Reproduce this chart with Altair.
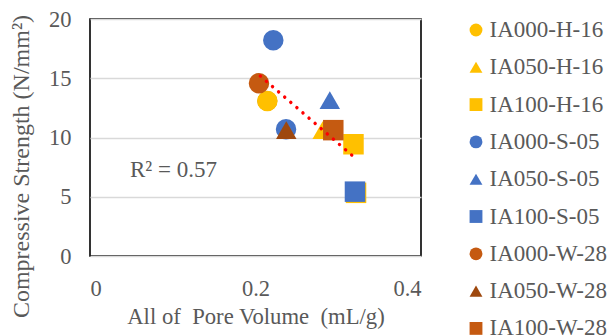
import altair as alt
import pandas as pd

# Measured samples: series name, pore volume (mL/g), compressive strength (N/mm2)
series = ["IA000-H-16", "IA050-H-16", "IA100-H-16", "IA100-H-16",
          "IA000-S-05", "IA000-S-05", "IA050-S-05", "IA100-S-05",
          "IA000-W-28", "IA050-W-28", "IA100-W-28"]
pore_volume = [0.2143, 0.2812, 0.3184, 0.3215, 0.2215, 0.2369, 0.2898, 0.3202,
               0.2042, 0.2372, 0.2940]
strength = [13.08, 10.63, 9.43, 5.33, 18.2, 10.69, 13.16, 5.43, 14.57, 10.63, 10.62]

legend_order = ["IA000-H-16", "IA050-H-16", "IA100-H-16",
                "IA000-S-05", "IA050-S-05", "IA100-S-05",
                "IA000-W-28", "IA050-W-28", "IA100-W-28"]
legend_colors = ["#FFC000", "#FFC000", "#FFC000",
                 "#4472C4", "#4472C4", "#4472C4",
                 "#C55A11", "#9E480E", "#C55A11"]
legend_shapes = ["circle", "triangle-up", "square"] * 3

# Linear trend line end points and its fit statistic
trend_x = [0.2058, 0.3163]
trend_y = [15.19, 8.52]
r2_label = ["R² = 0.57"]
r2_x = [0.0483]
r2_y = [6.69]

FONT = "Liberation Serif, Times New Roman, DejaVu Serif, serif"
GREY = "#595959"

points = pd.DataFrame({"series": series, "pv": pore_volume, "cs": strength,
                       "order": list(range(len(series)))})
trend = pd.DataFrame({"pv": trend_x, "cs": trend_y})
note = pd.DataFrame({"pv": r2_x, "cs": r2_y, "label": r2_label})

x_scale = alt.Scale(domain=[0, 0.4], nice=False, zero=False)
y_scale = alt.Scale(domain=[0, 20], nice=False)

x_axis = alt.Axis(title="All of\u00a0 Pore Volume\u00a0 (mL/g)", values=[0, 0.2, 0.4],
                  format="~g", grid=False, domain=False, ticks=False,
                  labelPadding=21, titleBaseline="top", titleY=49, titleFontSize=22.7)
y_axis = alt.Axis(title="Compressive Strength (N/mm²)", values=[0, 5, 10, 15, 20],
                  grid=True, domain=False, ticks=False, labelPadding=19,
                  titleAngle=270, titleAlign="center", titleBaseline="bottom",
                  titleX=-57, titleY=147, titleFontSize=24)

legend = alt.Legend(title=None, orient="none", legendX=374.5, legendY=-0.5)

# soft drop shadow under the yellow circle
shadow = alt.Chart(points).transform_filter(
    alt.datum.series == "IA000-H-16"
).mark_point(filled=True, opacity=1, size=400, color="#9C7C10", dx=1.5, dy=1.8).encode(
    x=alt.X("pv:Q", scale=x_scale), y=alt.Y("cs:Q", scale=y_scale)
)

scatter = alt.Chart(points).mark_point(filled=True, opacity=1, size=420).encode(
    x=alt.X("pv:Q", scale=x_scale, axis=x_axis),
    y=alt.Y("cs:Q", scale=y_scale, axis=y_axis),
    color=alt.Color("series:N", scale=alt.Scale(domain=legend_order, range=legend_colors),
                    legend=legend),
    shape=alt.Shape("series:N", scale=alt.Scale(domain=legend_order, range=legend_shapes),
                    legend=legend),
    order=alt.Order("order:Q"),
)

trend_line = alt.Chart(trend).mark_line(
    color="#FF0000", strokeWidth=3.4, strokeDash=[0.1, 7.95], strokeCap="round"
).encode(x=alt.X("pv:Q", scale=x_scale), y=alt.Y("cs:Q", scale=y_scale))

r2_text = alt.Chart(note).mark_text(
    align="left", baseline="alphabetic", font=FONT, fontSize=23, color=GREY
).encode(x=alt.X("pv:Q", scale=x_scale), y=alt.Y("cs:Q", scale=y_scale), text="label:N")

chart = alt.layer(shadow, scatter, trend_line, r2_text).properties(
    width=331, height=237,
    autosize=alt.AutoSizeParams(type="none"),
    padding={"left": 90, "top": 19, "right": 190, "bottom": 80},
).configure_view(
    stroke="black", strokeWidth=1.6
).configure_axis(
    labelFont=FONT, labelFontSize=22.5, labelColor=GREY,
    titleFont=FONT, titleColor=GREY, titleFontWeight="normal",
    gridColor="#D9D9D9", gridWidth=1.5
).configure_legend(
    labelFont=FONT, labelFontSize=23, labelColor=GREY,
    symbolSize=165, rowPadding=13.3, padding=0, labelOffset=2, symbolStrokeWidth=0
)

chart.save("out.html", embed_options={"renderer": "svg", "actions": False})
